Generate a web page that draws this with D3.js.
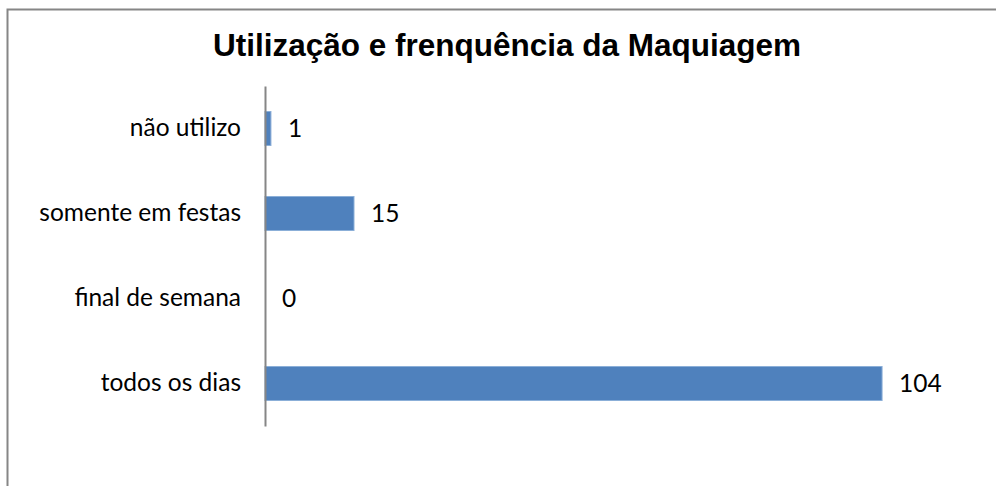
<!DOCTYPE html>
<html lang="pt">
<head>
	<meta charset="UTF-8">
	<title>Utilização e frenquência da Maquiagem</title>
	<script src="https://cdn.jsdelivr.net/npm/d3@7"></script>
	<style>
		body{ margin:0; background:white; }
		svg{ display:block; }
		.lbl{ font-family: Lato, "Open Sans", sans-serif; font-size:24.5px; fill:#000; }
		.title{ font-family: "Liberation Sans", Arial, sans-serif; font-weight:bold; font-size:31.5px; fill:#000; }
	</style>
</head>
<body>
	<svg width="996" height="486"></svg>
	<script>
		// dados do gráfico
		var categorias = ["não utilizo", "somente em festas", "final de semana", "todos os dias"];
		var valores = [1, 15, 0, 104];
		var titulo = "Utilização e frenquência da Maquiagem";

		var svg = d3.select("svg");

		// moldura do gráfico
		svg.append("rect")
			.attr("x", 7.5).attr("y", 9.5)
			.attr("width", 1000).attr("height", 500)
			.attr("fill", "none")
			.attr("stroke", "#868686")
			.attr("stroke-width", 2);

		svg.append("text")
			.attr("class", "title")
			.attr("x", 507)
			.attr("y", 56)
			.attr("text-anchor", "middle")
			.text(titulo);

		var x = d3.scaleLinear().domain([0, 120]).range([265, 977]);
		var y = d3.scaleBand().domain(categorias).range([86, 426])
			.paddingInner(0.6).paddingOuter(0.3);

		var g = svg.append("g");

		g.selectAll("rect.bar")
			.data(valores)
			.enter().append("rect")
			.attr("class", "bar")
			.attr("x", x(0))
			.attr("y", (d, i) => y(categorias[i]))
			.attr("width", d => x(d) - x(0))
			.attr("height", y.bandwidth())
			.attr("fill", "#4F81BD")
			.attr("stroke", "#8BAFD8")
			.attr("stroke-width", 1);

		g.selectAll("text.val")
			.data(valores)
			.enter().append("text")
			.attr("class", "lbl val")
			.attr("x", d => x(d) + 17)
			.attr("y", (d, i) => y(categorias[i]) + y.bandwidth() / 2)
			.attr("dy", "0.35em")
			.text(d => d);

		// eixo das categorias
		var axis = d3.axisLeft(y).tickSize(0).tickPadding(24);
		var ga = svg.append("g")
			.attr("transform", "translate(" + x(0) + ",0)")
			.call(axis);
		ga.select(".domain").attr("stroke", "#868686").attr("stroke-width", 2);
		ga.selectAll("text").attr("class", "lbl").attr("font-size", null).attr("font-family", null);
	</script>
</body>
</html>
